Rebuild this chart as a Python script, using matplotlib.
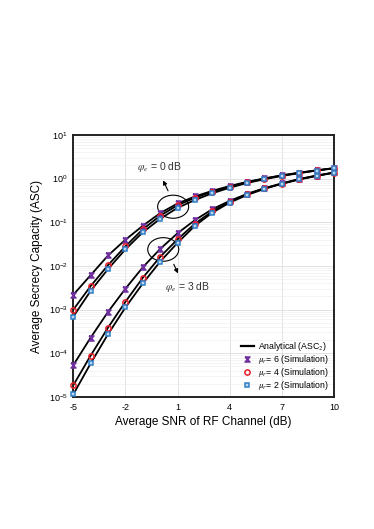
import numpy as np
import matplotlib
matplotlib.use('Agg')
import matplotlib.pyplot as plt
from matplotlib.patches import Ellipse

plt.rcParams['font.family'] = ['Liberation Sans', 'DejaVu Sans']
plt.rcParams['mathtext.fontset'] = 'stix'

snr_db = np.arange(-5, 11)

# log10 of ASC
# phi_e = 0 dB
asc0_mu6 = [-2.66, -2.21, -1.76, -1.40, -1.08, -0.79, -0.57, -0.41, -0.28, -0.17, -0.075, 0.005, 0.075, 0.135, 0.19, 0.24]
asc0_mu4 = [-3.00, -2.46, -1.98, -1.55, -1.16, -0.85, -0.61, -0.44, -0.30, -0.185, -0.085, 0.0, 0.07, 0.13, 0.187, 0.237]
asc0_mu2 = [-3.16, -2.57, -2.07, -1.62, -1.23, -0.92, -0.67, -0.49, -0.335, -0.21, -0.10, -0.015, 0.06, 0.125, 0.183, 0.233]
# phi_e = 3 dB
asc3_mu6 = [-4.27, -3.64, -3.05, -2.52, -2.03, -1.61, -1.25, -0.95, -0.70, -0.51, -0.35, -0.22, -0.11, -0.01, 0.07, 0.14]
asc3_mu4 = [-4.73, -4.05, -3.41, -2.82, -2.27, -1.79, -1.39, -1.03, -0.75, -0.53, -0.36, -0.225, -0.115, -0.015, 0.065, 0.137]
asc3_mu2 = [-4.94, -4.23, -3.56, -2.95, -2.40, -1.90, -1.47, -1.08, -0.78, -0.55, -0.375, -0.235, -0.12, -0.02, 0.06, 0.133]

x_ticks = [-5, -2, 1, 4, 7, 10]

bowtie = [(-1, 1), (1, 1), (-1, -1), (1, -1), (-1, 1)]
sims = [
    ('mu6', bowtie, '#7030a0', '#7030a0', 3.6, r'$\mu_r$= 6 (Simulation)'),
    ('mu4', 'o', 'none', '#e8202a', 3.8, r'$\mu_r$= 4 (Simulation)'),
    ('mu2', 's', '#bdd7ee', '#2f7fc8', 3.4, r'$\mu_r$= 2 (Simulation)'),
]
curves = {'mu6': [asc0_mu6, asc3_mu6], 'mu4': [asc0_mu4, asc3_mu4], 'mu2': [asc0_mu2, asc3_mu2]}

fig = plt.figure(figsize=(3.74, 5.29), dpi=100)
ax = fig.add_axes([0.196, 0.2495, 0.697, 0.4955])

for key in ['mu6', 'mu4', 'mu2']:
    for c in curves[key]:
        ax.plot(snr_db, 10 ** np.array(c), color='black', lw=1.3, zorder=2)
ax.plot([], [], color='black', lw=1.6, label=r'Analytical (ASC$_2$)')

for key, mk, fc, ec, ms, lab in sims:
    for i, c in enumerate(curves[key]):
        ax.plot(snr_db, 10 ** np.array(c), ls='none', marker=mk, ms=ms,
                mfc=fc, mec=ec, mew=1.1, zorder=5, clip_on=False,
                label=lab if i == 0 else None)

ax.set_yscale('log')
ax.set_ylim(1e-5, 1e1)
ax.set_xlim(-5, 10)
ax.set_xticks(x_ticks)
ax.set_xticklabels([str(t) for t in x_ticks])
ax.set_yticks([1e-5, 1e-4, 1e-3, 1e-2, 1e-1, 1e0, 1e1])
ax.tick_params(which='both', length=0, labelsize=6.5, pad=4)
ax.grid(True, which='major', color='#dddddd', lw=0.6)
ax.grid(True, which='minor', axis='y', color='#f0f0f0', lw=0.5)
ax.set_axisbelow(True)
for s in ax.spines.values():
    s.set_linewidth(1.4)
    s.set_color('#222222')

ax.set_xlabel('Average SNR of RF Channel (dB)', fontsize=8.5, labelpad=3)
ax.set_ylabel('Average Secrecy Capacity (ASC)', fontsize=8.5, labelpad=4)

# circles and labels
ax.add_patch(Ellipse((0.383, 0.726), 0.119, 0.088, transform=ax.transAxes,
                     fill=False, ec='black', lw=0.8, zorder=4))
ax.add_patch(Ellipse((0.345, 0.563), 0.119, 0.090, transform=ax.transAxes,
                     fill=False, ec='black', lw=0.8, zorder=4))
ax.annotate('', xy=(0.340, 0.836), xytext=(0.368, 0.777), xycoords='axes fraction',
            arrowprops=dict(arrowstyle='-|>', color='black', lw=0.8, mutation_scale=6))
ax.annotate('', xy=(0.406, 0.462), xytext=(0.381, 0.516), xycoords='axes fraction',
            arrowprops=dict(arrowstyle='-|>', color='black', lw=0.8, mutation_scale=6))
ax.text(0.332, 0.879, r'$\varphi_e$ = 0 dB', transform=ax.transAxes, fontsize=7.5,
        ha='center', va='center', color='#333333')
ax.text(0.436, 0.420, r'$\varphi_e$ = 3 dB', transform=ax.transAxes, fontsize=7.5,
        ha='center', va='center', color='#333333')

leg = ax.legend(loc='lower right', frameon=False, fontsize=6.3, handlelength=1.5,
                handleheight=0.4, handletextpad=0.5, labelspacing=0.0,
                borderaxespad=0.4, borderpad=0.2)

fig.savefig('out.png', dpi=100)
